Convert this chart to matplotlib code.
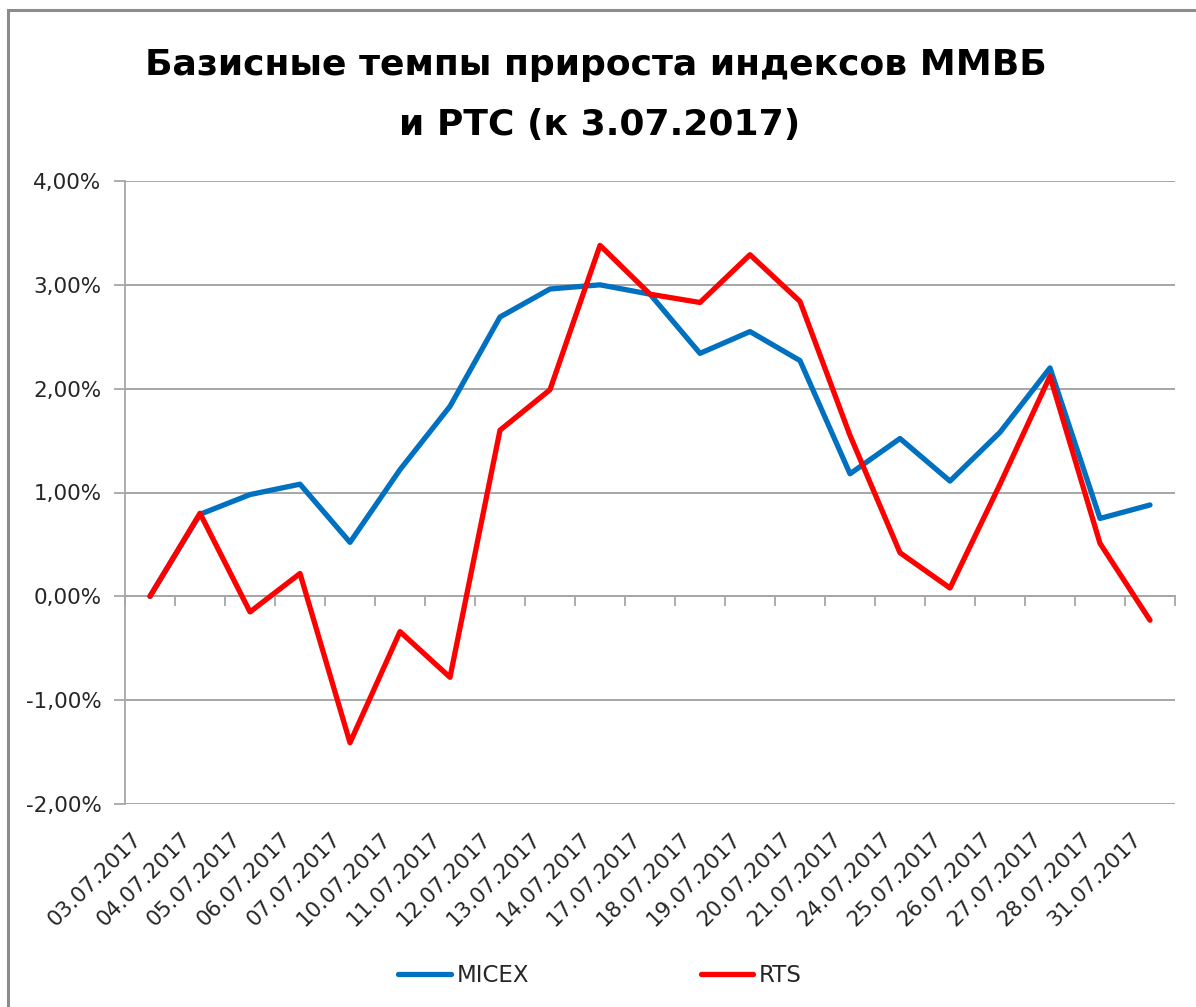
import matplotlib
matplotlib.use("Agg")
import matplotlib.pyplot as plt
from matplotlib.patches import Rectangle
from matplotlib.lines import Line2D
import matplotlib.transforms as mtransforms

dates = ["03.07.2017", "04.07.2017", "05.07.2017", "06.07.2017", "07.07.2017",
         "10.07.2017", "11.07.2017", "12.07.2017", "13.07.2017", "14.07.2017",
         "17.07.2017", "18.07.2017", "19.07.2017", "20.07.2017", "21.07.2017",
         "24.07.2017", "25.07.2017", "26.07.2017", "27.07.2017", "28.07.2017",
         "31.07.2017"]
micex = [0.00, 0.79, 0.98, 1.08, 0.52, 1.22, 1.83, 2.69, 2.96, 3.00,
         2.91, 2.34, 2.55, 2.27, 1.18, 1.52, 1.11, 1.58, 2.20, 0.75, 0.88]
rts = [0.00, 0.80, -0.15, 0.22, -1.41, -0.34, -0.78, 1.60, 1.99, 3.38,
       2.91, 2.83, 3.29, 2.84, 1.55, 0.42, 0.08, 1.08, 2.12, 0.51, -0.23]
yticks = [-2, -1, 0, 1, 2, 3, 4]
ytick_labels = ["-2,00%", "-1,00%", "0,00%", "1,00%", "2,00%", "3,00%", "4,00%"]
title_lines = ["Базисные темпы прироста индексов ММВБ", "и РТС (к 3.07.2017)"]

W, H = 1196, 1007
fig = plt.figure(figsize=(W / 100, H / 100), dpi=100)
fig.patch.set_facecolor("white")

# outer chart border (top/left visible)
fig.add_artist(Rectangle((8 / W, -0.01), 1.05, 1 - 10 / H + 0.01,
                         transform=fig.transFigure, fill=False,
                         edgecolor="#8c8c8c", linewidth=2.2))

left, right = 125 / W, 1175 / W
top, bottom = 1 - 181 / H, 1 - 804 / H
ax = fig.add_axes([left, bottom, right - left, top - bottom])

n = len(dates)
x = list(range(n))
grid_c = "#a6a6a6"

ax.set_xlim(-0.5, n - 0.5)
ax.set_ylim(-2, 4)
ax.set_yticks(yticks)
ax.set_yticklabels(ytick_labels, fontsize=15.5, color="#262626")
for yv in yticks:
    ax.axhline(yv, color=grid_c, linewidth=1.4, zorder=1)
ax.tick_params(axis="y", length=8, width=1.3, color=grid_c, pad=9)

for s in ["top", "right"]:
    ax.spines[s].set_visible(False)
ax.spines["left"].set_color(grid_c)
ax.spines["left"].set_linewidth(1.3)
ax.spines["bottom"].set_position(("data", 0))
ax.spines["bottom"].set_color(grid_c)
ax.spines["bottom"].set_linewidth(1.4)
ax.set_xticks([i - 0.5 for i in range(n + 1)])
ax.set_xticklabels([])
ax.tick_params(axis="x", length=7, width=1.3, color=grid_c, direction="out")

ax.plot(x, micex, color="#0070c0", linewidth=3.8, solid_joinstyle="round",
        solid_capstyle="round", zorder=3, label="MICEX")
ax.plot(x, rts, color="#ff0000", linewidth=3.8, solid_joinstyle="round",
        solid_capstyle="round", zorder=4, label="RTS")

trans = mtransforms.blended_transform_factory(ax.transData, ax.transAxes)
off = mtransforms.ScaledTranslation(-12 / 100, -32 / 100, fig.dpi_scale_trans)
for i, d in enumerate(dates):
    ax.text(i, 0, d, transform=trans + off, rotation=45, ha="right", va="center",
            rotation_mode="anchor", fontsize=15.5, color="#262626")

fig.text(596 / W, 1 - 75 / H, title_lines[0],
         ha="center", va="baseline", fontsize=26, fontweight="bold", color="black")
fig.text(600 / W, 1 - 135 / H, title_lines[1],
         ha="center", va="baseline", fontsize=26, fontweight="bold", color="black")

handles = [Line2D([0], [0], color="#0070c0", linewidth=3.8, solid_capstyle="round"),
           Line2D([0], [0], color="#ff0000", linewidth=3.8, solid_capstyle="round")]
fig.legend(handles, ["MICEX", "RTS"], loc="center", bbox_to_anchor=(600 / W, 1 - 976 / H),
           ncol=2, frameon=False, fontsize=16.5, handlelength=2.3, handletextpad=0.25,
           columnspacing=7.5, labelcolor="#262626")

fig.savefig("out.png", dpi=100, facecolor="white")
